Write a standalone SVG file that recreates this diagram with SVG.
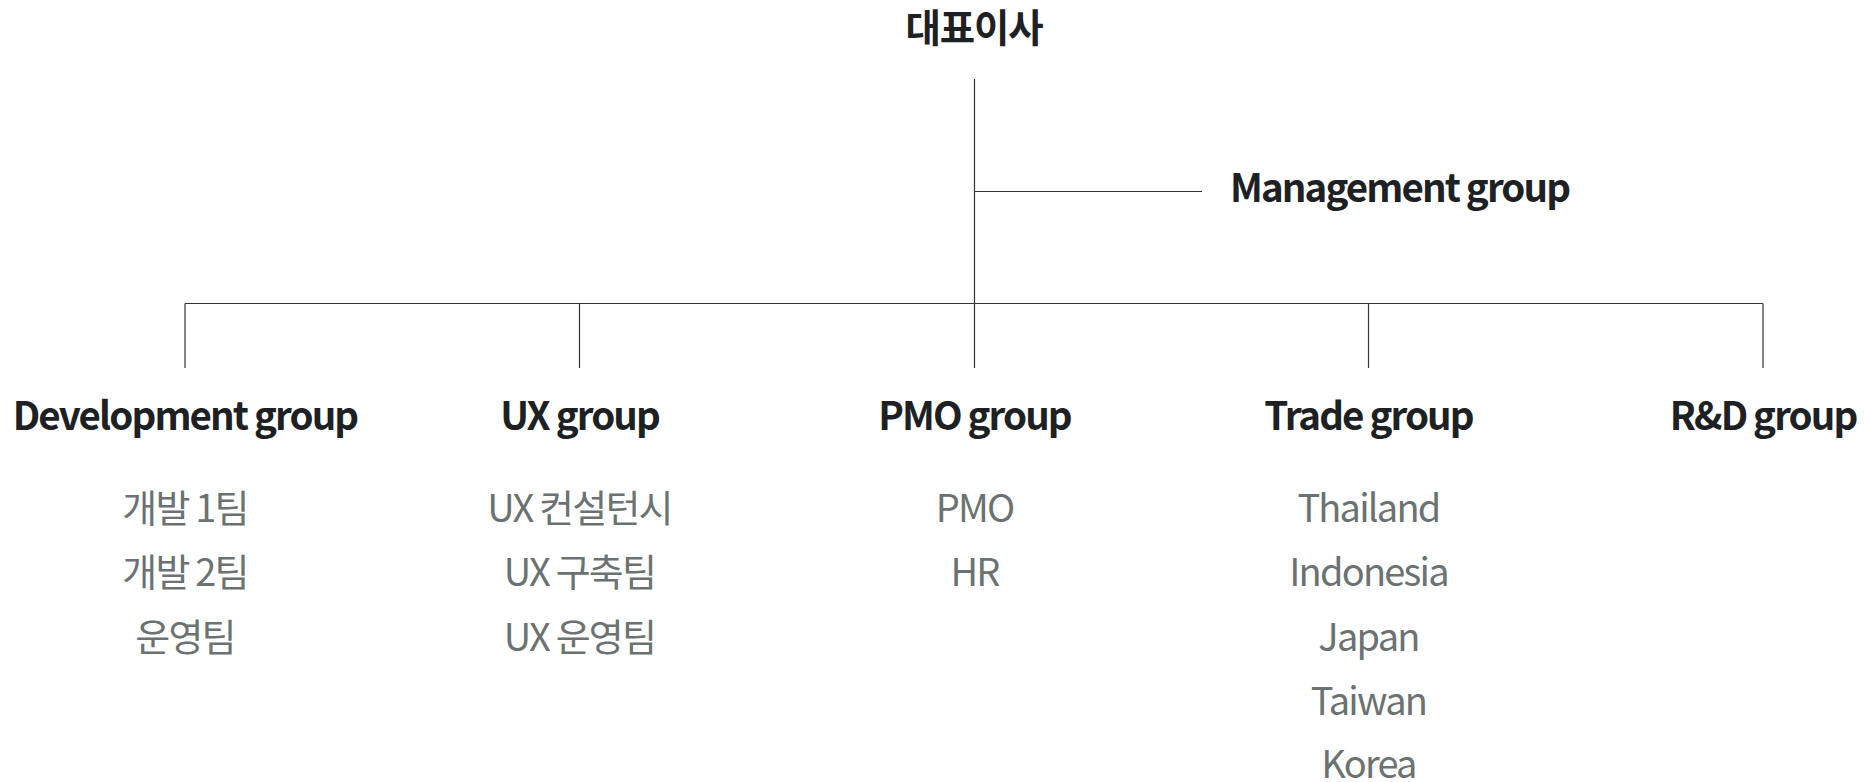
<svg xmlns="http://www.w3.org/2000/svg" width="1870" height="782" viewBox="0 0 1870 782">
<style>
.t{font-family:"Noto Sans CJK KR","Noto Sans",sans-serif;text-anchor:middle}
.h{font-size:38.5px;font-weight:700;fill:#1d2124;letter-spacing:-1.9px}
.s{font-size:38px;font-weight:400;fill:#6b7272;letter-spacing:-1.8px}
.ln{stroke:#333;stroke-width:1.2;fill:none}
</style>
<rect width="1870" height="782" fill="#fff"/>
<g id="connectors">
<line class="ln" x1="974.5" y1="79" x2="974.5" y2="368"/>
<line class="ln" x1="974.5" y1="191.5" x2="1202" y2="191.5"/>
<line class="ln" x1="185" y1="303.5" x2="1763" y2="303.5"/>
<line class="ln" x1="185" y1="303.5" x2="185" y2="368"/>
<line class="ln" x1="579.5" y1="303.5" x2="579.5" y2="368"/>
<line class="ln" x1="1368.5" y1="303.5" x2="1368.5" y2="368"/>
<line class="ln" x1="1763" y1="303.5" x2="1763" y2="368"/>
</g>
<g id="ceo"><text class="t h" x="974" y="42" style="letter-spacing:-1.2px">대표이사</text></g>
<g id="management"><text class="t h" x="1230" y="202" style="text-anchor:start">Management group</text></g>
<g id="development">
<text class="t h" x="185" y="430">Development group</text>
<text class="t s" x="185" y="522">개발 1팀</text>
<text class="t s" x="185" y="586">개발 2팀</text>
<text class="t s" x="185" y="651">운영팀</text>
</g>
<g id="ux">
<text class="t h" x="579.5" y="430">UX group</text>
<text class="t s" x="579.5" y="522">UX 컨설턴시</text>
<text class="t s" x="579.5" y="586">UX 구축팀</text>
<text class="t s" x="579.5" y="651">UX 운영팀</text>
</g>
<g id="pmo">
<text class="t h" x="974.5" y="430">PMO group</text>
<text class="t s" x="974.5" y="522">PMO</text>
<text class="t s" x="974.5" y="586">HR</text>
</g>
<g id="trade">
<text class="t h" x="1368.5" y="430">Trade group</text>
<text class="t s" x="1368.5" y="522">Thailand</text>
<text class="t s" x="1368.5" y="586">Indonesia</text>
<text class="t s" x="1368.5" y="651">Japan</text>
<text class="t s" x="1368.5" y="715">Taiwan</text>
<text class="t s" x="1368.5" y="778">Korea</text>
</g>
<g id="rnd"><text class="t h" x="1763" y="430">R&amp;D group</text></g>
</svg>
